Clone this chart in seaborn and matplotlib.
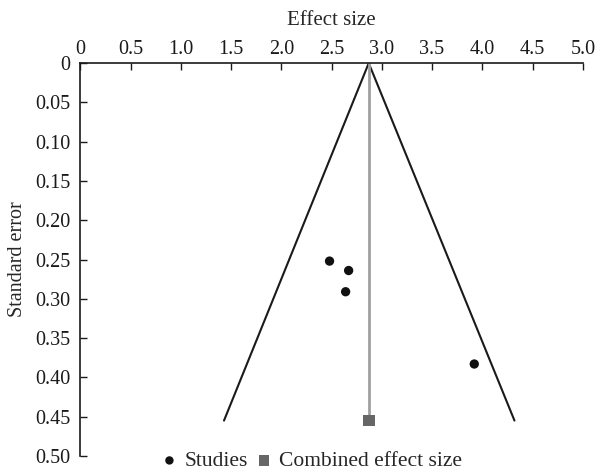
import matplotlib
matplotlib.use('Agg')
import matplotlib.pyplot as plt
import seaborn as sns
import pandas as pd

# study points
study_effect = [2.48, 2.67, 2.64, 3.92]
study_se = [0.252, 0.264, 0.291, 0.383]

# combined estimate and funnel outline
combined_effect = 2.87
combined_se = 0.455
funnel_x = [1.43, 2.87, 4.32]
funnel_y = [0.455, 0.0, 0.455]

x_ticks = [0, 0.5, 1.0, 1.5, 2.0, 2.5, 3.0, 3.5, 4.0, 4.5, 5.0]
x_labels = ['0', '0.5', '1.0', '1.5', '2.0', '2.5', '3.0', '3.5', '4.0', '4.5', '5.0']
y_ticks = [0, 0.05, 0.10, 0.15, 0.20, 0.25, 0.30, 0.35, 0.40, 0.45, 0.50]
y_labels = ['0', '0.05', '0.10', '0.15', '0.20', '0.25', '0.30', '0.35', '0.40', '0.45', '0.50']

sns.set_theme(style='ticks')
plt.rcParams['font.family'] = ['Liberation Serif', 'DejaVu Serif']
plt.rcParams['font.size'] = 14.5

fig = plt.figure(figsize=(5.99, 4.71), dpi=100)
ax = fig.add_axes([0.134, 0.032, 0.839, 0.834])

studies = pd.DataFrame({'effect': study_effect, 'se': study_se})
funnel = pd.DataFrame({'effect': funnel_x, 'se': funnel_y})

sns.lineplot(data=funnel, x='effect', y='se', sort=False, color='#1a1a1a',
             linewidth=1.5, ax=ax)
ax.plot([combined_effect, combined_effect], [0, combined_se], color='#a0a0a0',
        linewidth=2, zorder=2)
sns.scatterplot(data=studies, x='effect', y='se', color='#111111', s=45,
                edgecolor='none', ax=ax, label='Studies', zorder=3)
ax.scatter([combined_effect], [combined_se], marker='s', s=70, color='#666666',
           edgecolor='none', label='Combined effect size', zorder=3)

ax.set_xlim(0, 5.0)
ax.set_ylim(0.5, 0)
ax.set_xticks(x_ticks)
ax.set_xticklabels(x_labels)
ax.set_yticks(y_ticks)
ax.set_yticklabels(y_labels)
ax.xaxis.tick_top()
ax.xaxis.set_label_position('top')
ax.tick_params(axis='x', direction='in', length=5, width=1, pad=3, labelsize=14.5, colors='#1a1a1a')
ax.tick_params(axis='y', direction='in', length=5, width=1, pad=7, labelsize=14.5, colors='#1a1a1a')
ax.set_xlabel('Effect size', fontsize=15, labelpad=11)
ax.set_ylabel('Standard error', fontsize=14.5, labelpad=6)

for side in ['bottom', 'right']:
    ax.spines[side].set_visible(False)
for side in ['top', 'left']:
    ax.spines[side].set_linewidth(1.2)
    ax.spines[side].set_color('#1a1a1a')

ax.legend(loc='lower center', bbox_to_anchor=(0.46, -0.066), ncol=2, frameon=False,
          handletextpad=0.3, columnspacing=0.35, markerscale=0.9, fontsize=15.5,
          borderpad=0, handlelength=0.8)

fig.savefig('out.png', dpi=100)
